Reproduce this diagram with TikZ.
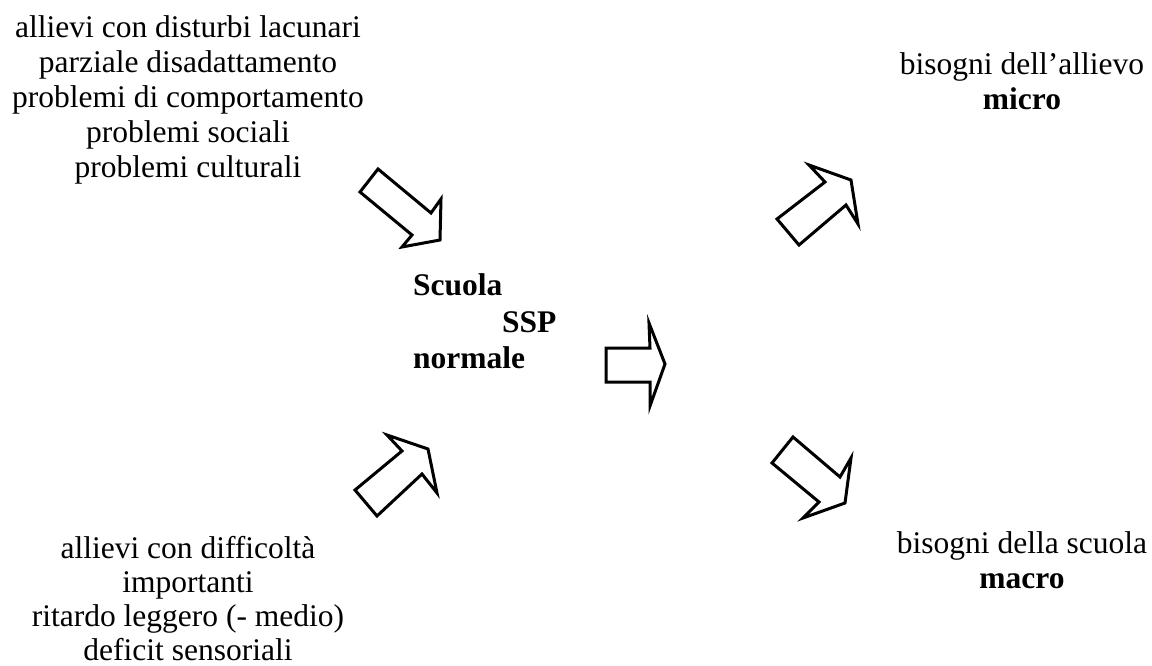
\documentclass[tikz,border=0pt]{standalone}
\usepackage{fontspec}
\setmainfont{Liberation Serif}
\begin{document}
\begin{tikzpicture}[x=1pt,y=-1pt,
  txt/.style={anchor=base,inner sep=0pt,font=\fontsize{31.5}{34.5}\selectfont},
  btxt/.style={txt,font=\fontsize{31.5}{34.5}\selectfont\bfseries},
  lbl/.style={txt,anchor=base west},
  blockarrow/.style={draw=black,line width=3pt,line join=miter,fill=white}]
\useasboundingbox (0,0) rectangle (1152,666);
% top-left
\node[txt] (tl1) at (188,38) {allievi con disturbi lacunari};
\node[txt] (tl2) at (188,73) {parziale disadattamento};
\node[txt] (tl3) at (188,108) {problemi di comportamento};
\node[txt] (tl4) at (188,143) {problemi sociali};
\node[txt] (tl5) at (188,178) {problemi culturali};
% bottom-left
\node[txt] (bl1) at (188,558) {allievi con difficoltà};
\node[txt] (bl2) at (188,592) {importanti};
\node[txt] (bl3) at (188,626) {ritardo leggero (- medio)};
\node[txt] (bl4) at (188,660) {deficit sensoriali};
% centre
\node[btxt,anchor=base west] (c1) at (413,295) {Scuola};
\node[btxt,anchor=base west] (c2) at (502,332) {SSP};
\node[btxt,anchor=base west] (c3) at (413,368) {normale};
% right
\node[txt] (tr1) at (1022,75) {bisogni dell’allievo};
\node[btxt] (tr2) at (1022,110) {micro};
\node[txt] (br1) at (1022,553) {bisogni della scuola};
\node[btxt] (br2) at (1022,588) {macro};
% block arrows
\draw[blockarrow] (378,169) -- (360,192) -- (412,235) -- (402,247) -- (440,240) -- (441,199) -- (431,213) -- cycle;
\draw[blockarrow] (387,435) -- (402,451) -- (355,490) -- (377,516) -- (422,474) -- (437,493) -- (428,449) -- cycle;
\draw[blockarrow] (606,348) -- (650,348) -- (649,323) -- (665,364) -- (650,406) -- (650,382) -- (606,382) -- cycle;
\draw[blockarrow] (809,165) -- (825,182) -- (777,219) -- (799,245) -- (846,205) -- (858,224) -- (851,180) -- cycle;
\draw[blockarrow] (793,437) -- (772,463) -- (819,502) -- (803,518) -- (845,503) -- (851,458) -- (840,477) -- cycle;
\end{tikzpicture}
\end{document}
